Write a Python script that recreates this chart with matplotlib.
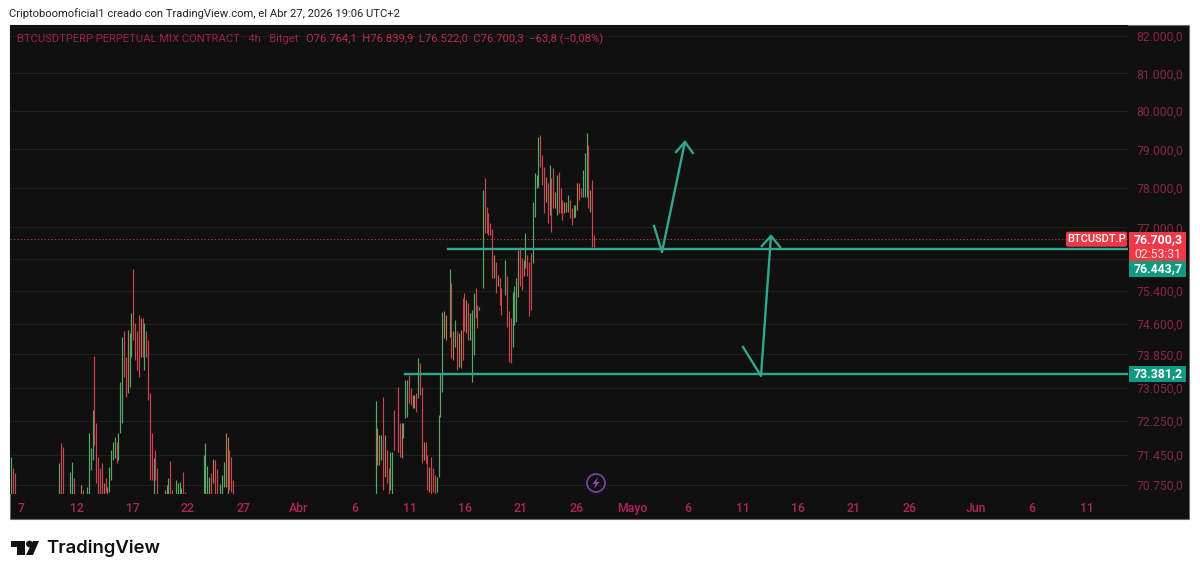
import matplotlib
matplotlib.use("Agg")
import matplotlib.pyplot as plt
from matplotlib.patches import Rectangle, Polygon, Circle, FancyBboxPatch
from matplotlib.transforms import ScaledTranslation

# 4h bars counted from Mar 7, 1 = up, -1 = down, 0 = small/mixed bar
march_idx = [-5, -4, -3, 21, 22, 23, 27, 28, 29, 33, 34, 36, 37, 38, 39, 40, 41, 42, 43, 44, 45, 46, 47, 48, 49, 50,
             51, 52, 53, 54, 55, 56, 57, 58, 59, 60, 61, 62, 63, 64, 65, 66, 67, 68, 69, 70, 71, 72, 73, 74,
             78, 79, 80, 81, 82, 84, 85, 86, 87, 88, 89,
             99, 100, 101, 102, 103, 104, 105, 106, 108, 109, 110, 111, 112, 113, 114, 115]
march_high = [71410, 71140, 71020, 71255, 71725, 71645, 71060, 71290, 70900, 70750, 70630, 70710, 71960, 71605, 72515,
              73815, 72195, 71410, 71140, 71255, 70785, 70900, 70710, 71175, 71565, 71765, 71880, 71765, 71960, 73195,
              74280, 74410, 73800, 74450, 74370, 74860, 75950, 74610, 74410, 74820, 74735, 74735, 74610, 74410, 74200,
              72910, 71960, 71370, 71565, 71140,
              70630, 70750, 70900, 71305, 70630, 70865, 70785, 70825, 70670, 71040, 70590,
              71450, 71740, 71190, 70940, 71020, 71350, 71330, 71115, 70760, 70980, 71280, 71960, 71880, 71565, 71395, 70865]
march_low = [70550, 70550, 70550, 70550, 70550, 70550, 70550, 70550, 70550, 70550, 70550, 70550, 70550, 71100, 71330,
             71685, 70785, 70550, 70550, 70550, 70550, 70590, 70550, 70590, 70865, 71330, 71370, 71255, 71330, 71960,
             72195, 73315, 72830, 72910, 73075, 73800, 74200, 73715, 73475, 73315, 73800, 73800, 73475, 73800, 72750,
             70865, 70865, 70550, 70865, 70550,
             70550, 70550, 70550, 70550, 70550, 70550, 70550, 70550, 70550, 70550, 70550,
             70550, 70550, 70550, 70550, 70550, 70785, 70550, 70550, 70550, 70550, 70710, 70710, 70550, 70630, 70590, 70550]
march_dir = [1, -1, -1, 1, -1, -1, 1, 1, -1, 0, -1, 1, 1, 1, 1, -1, -1, -1, -1, -1, 0, -1, 0, 1, 1, 1, 1, -1, 1, 1,
             1, -1, -1, 0, 1, 1, -1, -1, -1, -1, 0, -1, 1, -1, -1, -1, -1, 1, -1, -1,
             1, 0, 1, -1, -1, 1, 1, 1, 1, -1, -1,
             1, 1, 1, 1, -1, 0, -1, -1, 1, 1, 1, 0, 0, -1, -1, -1]

april_idx = [192, 193, 194, 195, 196, 197, 198, 199, 200, 201, 202, 204, 205, 206, 207, 208, 209, 210, 211, 212, 213,
             214, 215, 216, 217, 218, 219, 220, 221, 222, 223, 224, 225, 226, 227, 228, 229, 230, 232, 233, 234, 235,
             236, 237, 238, 239, 240, 241, 242, 243, 244, 245, 246, 247, 248]
april_high = [72730, 72080, 71920, 71920, 72830, 71920, 71565, 71140, 71530, 71530, 72515, 73075, 72195, 72195, 72195,
              73235, 73235, 73355, 73035, 72870, 72870, 72910, 73755, 73635, 73075, 71765, 71765, 71450, 71175, 71410,
              71140, 70980, 70940, 72395, 73395, 74885, 74900, 74820, 75945, 75615, 74410, 74690, 74410, 74370, 74450,
              75230, 75350, 75190, 75100, 74860, 74940, 75350, 75475, 75060, 75020]
april_low = [70550, 71215, 71215, 71330, 70630, 70940, 70785, 70550, 70630, 70550, 71565, 71530, 71410, 71370, 71840,
             72315, 72355, 72670, 72630, 72555, 72555, 72475, 72790, 72870, 71255, 71330, 71255, 70630, 70590, 70550,
             70590, 70550, 70590, 70940, 72355, 72950, 74240, 74200, 74280, 73755, 73715, 74040, 73475, 73555, 73515,
             73715, 74410, 74370, 74200, 74200, 73195, 73840, 74735, 74490, 74940]
april_dir = [1, 0, 0, 1, -1, 0, -1, -1, 1, 1, -1, -1, -1, 0, 1, 1, 1, -1, -1, 0, 0, -1, 1, -1, -1, 0, -1, -1, 0, -1,
             -1, -1, 1, 1, 1, 1, 0, 0, 1, -1, 0, 1, -1, 0, 0, -1, -1, 0, -1, 1, 1, 1, -1, -1, 1]

late_idx = [250, 251, 252, 253, 254, 255, 256, 257, 258, 259, 260, 262, 263, 264, 265, 266, 267, 268, 269, 270, 271,
            272, 273, 274, 275, 276, 277, 278, 279, 280, 281, 282, 283, 284, 285, 286, 287, 288, 289, 290, 291, 292,
            293, 294, 295, 296, 297, 298, 299, 300, 301, 302, 303, 304, 305, 306, 307, 308, 309, 310]
late_high = [77955, 78250, 77505, 77355, 77100, 76950, 76305, 76140, 75810, 75730, 75475, 76180, 75770, 74900, 74735,
             75390, 75520, 75730, 76430, 76515, 76220, 76180, 76850, 76305, 76140, 76345, 77655, 78380, 78340, 79330,
             79375, 78855, 78555, 78295, 78125, 78600, 78250, 78510, 77910, 78340, 78420, 77995, 77700, 77655, 77655,
             77825, 77700, 77480, 77570, 77570, 78125, 78125, 77995, 78465, 78897, 79435, 79115, 77955, 78210, 76810]
late_low = [75475, 76850, 76850, 76810, 76810, 75730, 75730, 75350, 75520, 75060, 74820, 75310, 74530, 73675, 73635,
            74040, 74570, 74650, 75270, 75520, 75430, 75770, 75970, 75770, 74780, 74940, 76095, 77270, 77995, 78038,
            78555, 78080, 77355, 77655, 77100, 77310, 76890, 77480, 77480, 77310, 77355, 77355, 77187, 77355, 77400,
            77400, 77230, 77060, 77230, 77270, 77440, 77700, 77785, 77785, 77785, 77785, 77480, 77400, 76515, 76515]
late_dir = [1, -1, -1, -1, -1, -1, 0, -1, 0, -1, -1, 1, -1, -1, -1, 1, 1, 1, 0, -1, -1, 0, 1, -1, -1, -1, 1, 1, 1, 1,
            -1, -1, -1, 0, -1, 1, -1, -1, 0, 1, -1, -1, -1, 0, 0, 1, -1, -1, 1, 1, 0, -1, -1, 1, 1, 1, -1, 0, -1, -1]

# the 76.200 line has no readable label, the price tags sit on it
price_ticks = [82000, 81000, 80000, 79000, 78000, 77000, 76200, 75400, 74600, 73850, 73050, 72250, 71450, 70750]
price_labels = ["82.000,0", "81.000,0", "80.000,0", "79.000,0", "78.000,0", "77.000,0", "",
                "75.400,0", "74.600,0", "73.850,0", "73.050,0", "72.250,0", "71.450,0", "70.750,0"]
date_ticks = [0, 30, 60, 90, 120, 150, 180, 210, 240, 270, 300, 330, 360, 390, 420, 450, 480, 516, 546, 576]
date_labels = ["7", "12", "17", "22", "27", "Abr", "6", "11", "16", "21", "26", "Mayo", "6", "11", "16", "21", "26",
               "Jun", "6", "11"]

last_price = 76700.3
level_high = 76443.7
level_low = 73381.2
level_high_start = 231
level_low_start = 208

arrow_up_idx = [342.5, 346.8, 359.2]
arrow_up_price = [77035, 76380, 79192]
arrow_up_head_idx = [354.4, 359.2, 363.5]
arrow_up_head_price = [78932, 79192, 78906]
arrow_mid_idx = [390.6, 400.3, 405.7]
arrow_mid_price = [74031, 73329, 76782]
arrow_mid_head_idx = [400.8, 405.7, 410.6]
arrow_mid_head_price = [76531, 76782, 76505]

bar_colors = {1: "#55a866", -1: "#cc4452", 0: "#ad7c54"}
teal = "#2fa88f"
W, H = 1200, 577

plt.rcParams["font.family"] = ["Roboto", "DejaVu Sans"]
fig = plt.figure(figsize=(W / 100, H / 100), dpi=100, facecolor="white")

# dark panel behind the chart and both axes
fig.add_artist(Rectangle((10 / W, 1 - 519 / H), 1179 / W, 494 / H, transform=fig.transFigure,
                         facecolor="#101010", edgecolor="#6a6a6a", linewidth=0.8, zorder=-1))

ax = fig.add_axes([10 / W, 1 - 494 / H, 1118 / W, 469 / H])
ax.set_facecolor("#101010")
ax.set_yscale("log")
ax.set_ylim(70539, 82296)
ax.set_xlim(-5.65, 598.7)
for s in ax.spines.values():
    s.set_visible(False)

ax.yaxis.tick_right()
ax.set_yticks(price_ticks)
ax.set_yticklabels(price_labels)
ax.yaxis.set_minor_locator(matplotlib.ticker.NullLocator())
ax.tick_params(axis="y", length=0, pad=6, labelsize=8.8, labelcolor="#882545")
ax.set_xticks(date_ticks)
ax.set_xticklabels(date_labels)
ax.tick_params(axis="x", length=0, pad=6, labelsize=8.8, labelcolor="#b0245e")
for lab in ax.get_xticklabels():
    lab.set_fontweight("medium")
    lab.set_transform(lab.get_transform() + ScaledTranslation(0.7 / 72, 0, fig.dpi_scale_trans))
ax.grid(axis="y", color="#1f1f1f", linewidth=0.8)
ax.set_axisbelow(True)

for idx, high, low, direction in [(march_idx, march_high, march_low, march_dir),
                                  (april_idx, april_high, april_low, april_dir),
                                  (late_idx, late_high, late_low, late_dir)]:
    ax.vlines(idx, low, high, colors=[bar_colors[d] for d in direction], linewidth=0.85, zorder=2)

ax.axhline(last_price, color="#a83a46", linewidth=0.7, linestyle=(0, (1.5, 2)), zorder=1)
ax.plot([level_high_start, 598.7], [level_high, level_high], color=teal, linewidth=1.7, zorder=3)
ax.plot([level_low_start, 598.7], [level_low, level_low], color=teal, linewidth=1.7, zorder=3)
ax.plot(arrow_up_idx, arrow_up_price, color=teal, linewidth=1.7, zorder=3)
ax.plot(arrow_up_head_idx, arrow_up_head_price, color=teal, linewidth=1.7, zorder=3)
ax.plot(arrow_mid_idx, arrow_mid_price, color=teal, linewidth=1.7, zorder=3)
ax.plot(arrow_mid_head_idx, arrow_mid_head_price, color=teal, linewidth=1.7, zorder=3)

# overlay in image pixels for header, tags and logo
top = fig.add_axes([0, 0, 1, 1], zorder=10)
top.set_xlim(0, W)
top.set_ylim(H, 0)
top.axis("off")


def price_px(p):
    return H - ax.transData.transform((0, p))[1]


top.text(9, 14, "Criptoboomoficial1 creado con TradingView.com, el Abr 27, 2026 19:06 UTC+2",
         fontsize=8.15, color="#222222", va="center")

title = top.text(17, 39, "BTCUSDTPERP PERPETUAL MIX CONTRACT · 4h · Bitget", fontsize=8.1, color="#9c2248", va="center")
fig.canvas.draw()
box = title.get_window_extent()
top.text(box.x1 + 8, 39, "O76.764,1  H76.839,9  L76.522,0  C76.700,3  −63,8 (−0,08%)", fontsize=8.1,
         color="#b82c52", va="center")


def tag(x, y, w, h, color):
    top.add_patch(FancyBboxPatch((x + 1, y + 1), w - 2, h - 2, boxstyle="round,pad=1,rounding_size=2",
                                 facecolor=color, edgecolor="none"))


# price tags, the upper green one is pushed below the countdown like in TradingView
red_y = price_px(last_price)
tag(1066, red_y - 7.5, 61, 15, "#ee3a48")
top.text(1096.5, red_y, "BTCUSDT.P", color="white", fontsize=8.0, fontweight="medium", ha="center", va="center")
top.add_patch(Rectangle((1129, red_y - 7.5), 57, 29.5, facecolor="#ee3a48", edgecolor="none"))
top.text(1158, red_y, "76.700,3", color="white", fontsize=8.8, fontweight="bold", ha="center", va="center")
top.text(1158, red_y + 15, "02:53:31", color="#fbdcdc", fontsize=8.8, ha="center", va="center")
for y, txt in [(red_y + 29.5, "76.443,7"), (price_px(level_low), "73.381,2")]:
    top.add_patch(Rectangle((1129, y - 7.5), 57, 15.5, facecolor="#0f9a82", edgecolor="none"))
    top.text(1158, y, txt, color="white", fontsize=8.8, fontweight="bold", ha="center", va="center")

# replay icon
top.add_patch(Circle((596, 483), 9, facecolor="none", edgecolor="#7c3f9e", linewidth=1.3))
top.add_patch(Polygon([(598, 477), (592.5, 484), (595.5, 484), (594, 489), (599.5, 482), (596.5, 482)],
                      facecolor="#8a4bb0", edgecolor="none"))

# TradingView logo
top.add_patch(Polygon([(11, 541), (25, 541), (25, 555), (17, 555), (17, 547), (11, 547)], facecolor="#111111", edgecolor="none"))
top.add_patch(Circle((29.5, 544), 3.4, facecolor="#111111", edgecolor="none"))
top.add_patch(Polygon([(33, 541), (39, 541), (33, 555), (26, 555)], facecolor="#111111", edgecolor="none"))
top.text(46, 548.5, "TradingView", family=["Inter", "DejaVu Sans"], fontsize=13.3, fontweight="semibold",
         color="#111111", va="center")

fig.savefig("out.png", dpi=100, facecolor="white")
